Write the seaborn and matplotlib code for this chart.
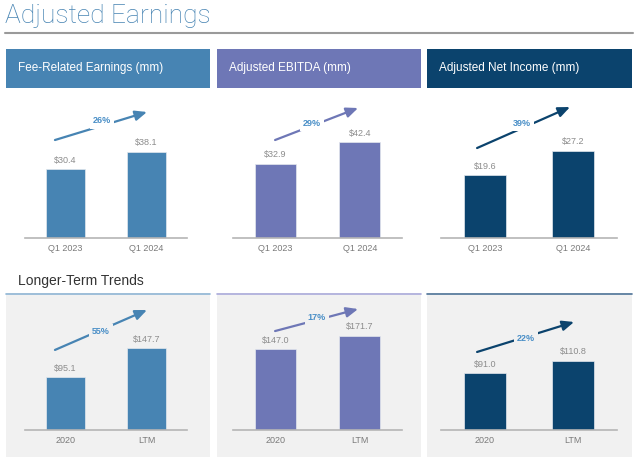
import matplotlib
matplotlib.use('Agg')
import matplotlib.pyplot as plt
from matplotlib.patches import Rectangle
from matplotlib.lines import Line2D
import seaborn as sns

# Data
top_titles = ['Fee-Related Earnings (mm)', 'Adjusted EBITDA (mm)', 'Adjusted Net Income (mm)']
quarters = ['Q1 2023', 'Q1 2024']
quarter_vals = [[30.4, 38.1], [32.9, 42.4], [19.6, 27.2]]
quarter_growth = ['26%', '29%', '39%']
periods = ['2020', 'LTM']
period_vals = [[95.1, 147.7], [147.0, 171.7], [91.0, 110.8]]
period_growth = ['55%', '17%', '22%']

# Styles
bar_colors = ['#4784B3', '#6E77B6', '#0B436D']
border_colors = ['#8FB5D5', '#ABABDB', '#4E7398']
pct_color = '#4A8FC7'
label_gray = '#8C8C8C'
tick_gray = '#7A7A7A'

sns.set_style('white')
plt.rcParams['font.family'] = ['Liberation Sans', 'DejaVu Sans']

W, H = 640, 459
fig = plt.figure(figsize=(W / 100, H / 100), dpi=100)


def fx(x):
    return x / W


def fy(y):
    return 1 - y / H


def px_axes(x0, y0, x1, y1):
    return fig.add_axes([fx(x0), fy(y1), (x1 - x0) / W, (y1 - y0) / H])


def fig_rect(x0, y0, x1, y1, color):
    fig.add_artist(Rectangle((fx(x0), fy(y1)), (x1 - x0) / W, (y1 - y0) / H,
                             transform=fig.transFigure, facecolor=color,
                             edgecolor='none', zorder=0))


def fig_line(x0, x1, y, color, lw):
    fig.add_artist(Line2D([fx(x0), fx(x1)], [fy(y), fy(y)], transform=fig.transFigure,
                          color=color, lw=lw, zorder=1))


# Title
fig.text(fx(5), fy(16), 'Adjusted Earnings', fontsize=19, color='#4784B3',
         va='center', ha='left', family=['Roboto', 'Liberation Sans'], fontweight='light')
fig_line(5, 633, 33, '#9A9A9A', 1.5)

panel_x = [(6, 210), (217, 421), (427, 632)]
axis_x = [(25, 187), (233, 402), (441, 617)]

# header boxes
for (x0, x1), title, c in zip(panel_x, top_titles, bar_colors):
    fig_rect(x0, 49, x1, 88, c)
    fig.text(fx(x0 + 12), fy(68.5), title, color='white', fontsize=8.5,
             va='center', ha='left')

# Longer-term section
fig.text(fx(18), fy(281), 'Longer-Term Trends', color='#333333', fontsize=10,
         va='center', ha='left')
for (x0, x1), bc in zip(panel_x, border_colors):
    fig_rect(x0, 293, x1, 457, '#F1F1F1')
    fig_line(x0, x1, 293.5, bc, 1.2)

top_ymax = [61, 61, 43]
bot_ymax = [244, 246, 216]
top_arrows = [((0.185, 0.71), (0.753, 0.913), (0.475, 0.848)),
              ((0.249, 0.71), (0.74, 0.942), (0.467, 0.833)),
              ((0.205, 0.652), (0.733, 0.949), (0.46, 0.833))]
bot_arrows = [((0.185, 0.593), (0.753, 0.889), (0.469, 0.726)),
              ((0.249, 0.733), (0.74, 0.896), (0.497, 0.83)),
              ((0.205, 0.578), (0.756, 0.8), (0.483, 0.681))]


def draw_panel(ax, cats, vals, color, ymax, growth, arrow, bg):
    sns.barplot(x=cats, y=vals, ax=ax, color=color, width=0.48, saturation=1,
                edgecolor='#E4E8EE', linewidth=0.5)
    ax.set_xlim(-0.5, 1.5)
    ax.set_ylim(0, ymax)
    ax.set_facecolor('none')
    for s in ['top', 'right', 'left']:
        ax.spines[s].set_visible(False)
    ax.spines['bottom'].set_color('#B5B5B5')
    ax.spines['bottom'].set_linewidth(1.2)
    ax.set_yticks([])
    ax.tick_params(axis='x', length=0, pad=4, labelsize=6.5, labelcolor=tick_gray)
    ax.set_xlabel('')
    ax.set_ylabel('')
    for i, v in enumerate(vals):
        ax.annotate(f'${v:.1f}', (i, v), xytext=(0, 6.5), textcoords='offset points',
                    ha='center', va='center', fontsize=6.5, color=label_gray)
    start, end, txt = arrow
    ax.annotate('', xy=end, xytext=start, xycoords='axes fraction',
                textcoords='axes fraction', annotation_clip=False,
                arrowprops=dict(arrowstyle='-|>,head_length=0.7,head_width=0.3',
                                color=color, lw=1.6, mutation_scale=10,
                                shrinkA=0, shrinkB=0))
    ax.text(txt[0], txt[1], growth, transform=ax.transAxes, ha='center', va='center',
            fontsize=6.5, fontweight='bold', color=pct_color, zorder=5,
            bbox=dict(boxstyle='square,pad=0.35', facecolor=bg, edgecolor='none'))


for i in range(3):
    x0, x1 = axis_x[i]
    ax = px_axes(x0, 100, x1, 238)
    draw_panel(ax, quarters, quarter_vals[i], bar_colors[i], top_ymax[i],
               quarter_growth[i], top_arrows[i], 'white')
    ax = px_axes(x0, 295, x1, 430)
    draw_panel(ax, periods, period_vals[i], bar_colors[i], bot_ymax[i],
               period_growth[i], bot_arrows[i], '#F1F1F1')

fig.savefig('out.png', dpi=100, facecolor='white')
